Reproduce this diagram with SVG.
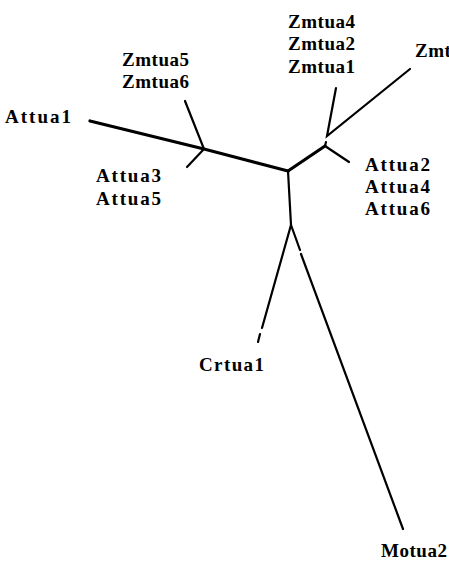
<svg xmlns="http://www.w3.org/2000/svg" width="449" height="562" viewBox="0 0 449 562">
  <style>
    .lbl { font-family: "Liberation Serif", "DejaVu Serif", serif; font-size: 19px; font-weight: bold; fill: #000; }
    .br { stroke: #000; stroke-width: 2.2; fill: none; stroke-linecap: round; }
    .thick { stroke-width: 3.2; }
  </style>
  <rect width="449" height="562" fill="#fff"/>

  <!-- tree branches -->
  <g id="connectors">
    <path class="br thick" d="M90,121 L204,149 L288,171"/>
    <path class="br" d="M185,101 L204,149 L187,167"/>
    <path class="br thick" d="M288,171 L325,146"/>
    <path class="br" d="M325,146 L349,162"/>
    <path class="br" d="M325,146 L326,142"/>
    <path class="br" d="M336,88 L327,136 L410,69"/>
    <path class="br" d="M288,171 L291,225"/>
    <path class="br" d="M291,225 L262,328"/>
    <path class="br" d="M260,334 L258,342"/>
    <path class="br" d="M291,225 L300,250"/>
    <path class="br" d="M301,254 L403,529"/>
  </g>

  <!-- leaf labels -->
  <g id="attua1"><text class="lbl" x="5" y="123" textLength="66" lengthAdjust="spacing">Attua1</text></g>
  <g id="zmtua56">
    <text class="lbl" x="122" y="66" textLength="67" lengthAdjust="spacing">Zmtua5</text>
    <text class="lbl" x="122" y="88" textLength="67" lengthAdjust="spacing">Zmtua6</text>
  </g>
  <g id="attua35">
    <text class="lbl" x="96" y="182" textLength="65" lengthAdjust="spacing">Attua3</text>
    <text class="lbl" x="96" y="205" textLength="65" lengthAdjust="spacing">Attua5</text>
  </g>
  <g id="zmtua421">
    <text class="lbl" x="288" y="28" textLength="67" lengthAdjust="spacing">Zmtua4</text>
    <text class="lbl" x="288" y="50" textLength="67" lengthAdjust="spacing">Zmtua2</text>
    <text class="lbl" x="288" y="73" textLength="67" lengthAdjust="spacing">Zmtua1</text>
  </g>
  <g id="zmtua3"><text class="lbl" x="415" y="57" textLength="67" lengthAdjust="spacing">Zmtua3</text></g>
  <g id="attua246">
    <text class="lbl" x="365" y="171" textLength="65" lengthAdjust="spacing">Attua2</text>
    <text class="lbl" x="365" y="193" textLength="65" lengthAdjust="spacing">Attua4</text>
    <text class="lbl" x="365" y="215" textLength="65" lengthAdjust="spacing">Attua6</text>
  </g>
  <g id="crtua1"><text class="lbl" x="199" y="371" textLength="65" lengthAdjust="spacing">Crtua1</text></g>
  <g id="motua2"><text class="lbl" x="381" y="557" textLength="66" lengthAdjust="spacing">Motua2</text></g>
</svg>
